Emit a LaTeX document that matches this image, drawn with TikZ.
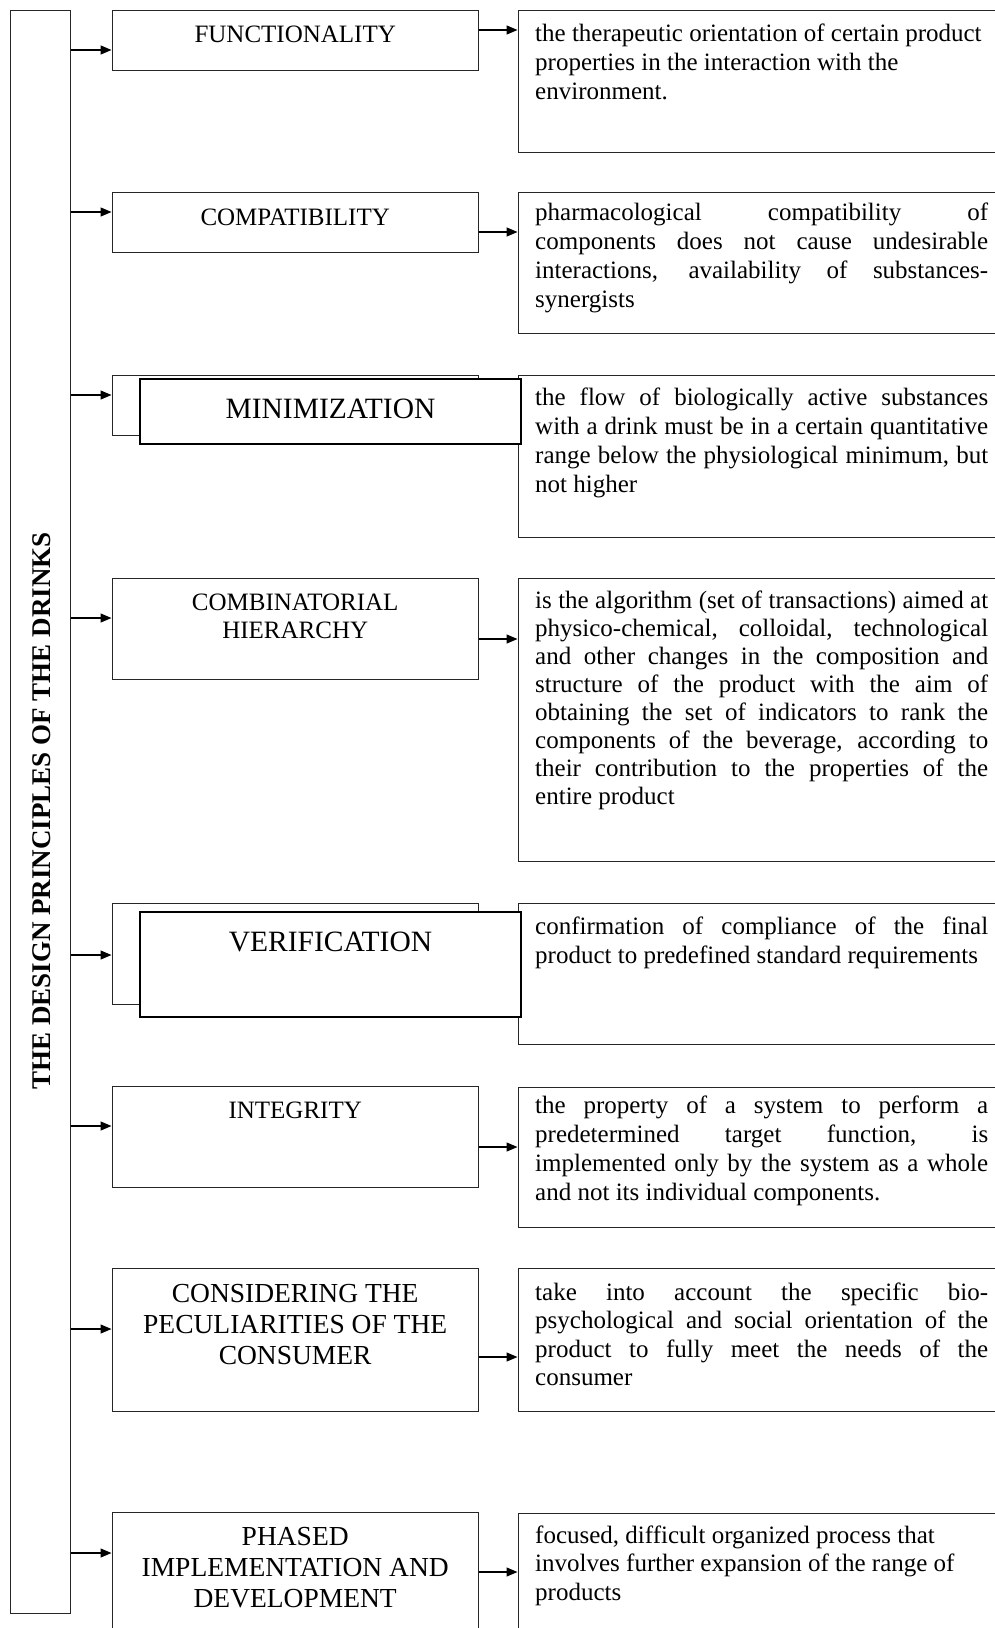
\documentclass[tikz,border=0pt]{standalone}
\usepackage{fontspec}
\setmainfont{Liberation Serif}
\usetikzlibrary{arrows.meta,fit}
\newlength{\rw}\setlength{\rw}{453pt}
\newlength{\lw}\setlength{\lw}{366pt}
\newcommand{\jl}[1]{\hbox to \rw{#1}}
\newcommand{\rl}[1]{\hbox{#1}}
\newcommand{\cl}[1]{\hbox to \lw{\hfil#1\hfil}}
\newcommand{\para}[2]{\vtop{\baselineskip=#1pt\lineskiplimit=-30pt\lineskip=0pt #2}}
\begin{document}
\begin{tikzpicture}[x=1pt,y=-1pt,
  box/.style={draw=black!85, line width=1pt, inner sep=0pt},
  frontbox/.style={draw=black, line width=2pt, fill=white, inner sep=0pt},
  arr/.style={line width=1.3pt, -{Triangle[length=11pt,width=9pt]}},
  txt/.style={anchor=base west, inner sep=0pt, font=\fontsize{25}{29}\selectfont},
  ltxt/.style={anchor=base west, inner sep=0pt, font=\fontsize{25}{31}\selectfont},
  lbig/.style={anchor=base west, inner sep=0pt, font=\fontsize{27.5}{31}\selectfont},
  big/.style={anchor=base, inner sep=0pt, font=\fontsize{29.5}{32}\selectfont}]
\useasboundingbox (0,0) rectangle (995,1628);
\fill[white] (0,0) rectangle (995,1628);
\clip (0,0) rectangle (995,1628);

% title column
\node[box, fit={(10,10) (70,1613)}] (T) {};
\node[rotate=90, inner sep=0pt, font=\bfseries\fontsize{27}{27}\selectfont] (tt) at (42,811) {THE DESIGN PRINCIPLES OF THE DRINKS};

% left boxes
\node[box, fit={(112,10) (478,70)}] (L1) {};
\node[box, fit={(112,192) (478,252)}] (L2) {};
\node[box, fit={(112,375) (478,435)}] (L3) {};
\node[box, fit={(112,578) (478,679)}] (L4) {};
\node[box, fit={(112,903) (478,1004)}] (L5) {};
\node[box, fit={(112,1086) (478,1187)}] (L6) {};
\node[box, fit={(112,1268) (478,1411)}] (L7) {};
\node[box, fit={(112,1512) (478,1660)}] (L8) {};

% right boxes
\node[box, fit={(518,10) (1010,152)}] (R1) {};
\node[box, fit={(518,192) (1010,333)}] (R2) {};
\node[box, fit={(518,375) (1010,537)}] (R3) {};
\node[box, fit={(518,578) (1010,861)}] (R4) {};
\node[box, fit={(518,903) (1010,1044)}] (R5) {};
\node[box, fit={(518,1087) (1010,1227)}] (R6) {};
\node[box, fit={(518,1268) (1010,1411)}] (R7) {};
\node[box, fit={(518,1513) (1010,1660)}] (R8) {};

% arrows from title column
\draw[arr] (T.east |- 0,50) -- (L1.west |- 0,50);
\draw[arr] (T.east |- 0,212) -- (L2.west |- 0,212);
\draw[arr] (T.east |- 0,395) -- (L3.west |- 0,395);
\draw[arr] (T.east |- 0,618) -- (L4.west |- 0,618);
\draw[arr] (T.east |- 0,955) -- (L5.west |- 0,955);
\draw[arr] (T.east |- 0,1126) -- (L6.west |- 0,1126);
\draw[arr] (T.east |- 0,1329) -- (L7.west |- 0,1329);
\draw[arr] (T.east |- 0,1553) -- (L8.west |- 0,1553);

% arrows to description boxes
\draw[arr] (L1.east |- 0,30) -- (R1.west |- 0,30);
\draw[arr] (L2.east |- 0,232) -- (R2.west |- 0,232);
\draw[arr] (L4.east |- 0,639) -- (R4.west |- 0,639);
\draw[arr] (L6.east |- 0,1147) -- (R6.west |- 0,1147);
\draw[arr] (L7.east |- 0,1357) -- (R7.west |- 0,1357);
\draw[arr] (L8.east |- 0,1572) -- (R8.west |- 0,1572);

% front boxes
\node[frontbox, fit={(140,379) (521,444)}] (F3) {};
\node[frontbox, fit={(140,912) (521,1017)}] (F5) {};

% left labels
\node[ltxt] (l1) at (112,42) {\para{31}{\cl{FUNCTIONALITY}}};
\node[ltxt] (l2) at (112,225) {\para{31}{\cl{COMPATIBILITY}}};
\node[big] (l3) at (330.5,418) {MINIMIZATION};
\node[ltxt] (l4) at (112,610) {\para{28}{\cl{COMBINATORIAL}\cl{HIERARCHY}}};
\node[big] (l5) at (330.5,951) {VERIFICATION};
\node[ltxt] (l6) at (112,1118) {\para{31}{\cl{INTEGRITY}}};
\node[lbig] (l7) at (112,1302) {\para{31}{\cl{CONSIDERING THE}\cl{PECULIARITIES OF THE}\cl{CONSUMER}}};
\node[lbig] (l8) at (112,1545) {\para{31}{\cl{PHASED}\cl{IMPLEMENTATION AND}\cl{DEVELOPMENT}}};

% description texts
\node[txt] (r1) at (535,41) {\para{29}{%
\rl{the therapeutic orientation of certain product}
\rl{properties in the interaction with the}
\rl{environment.}}};
\node[txt] (r2) at (535,220) {\para{29}{%
\jl{pharmacological compatibility of}
\jl{components does not cause undesirable}
\jl{interactions, availability of substances-}
\rl{synergists}}};
\node[txt] (r3) at (535,405) {\para{29}{%
\jl{the flow of biologically active substances}
\jl{with a drink must be in a certain quantitative}
\jl{range below the physiological minimum, but}
\rl{not higher}}};
\node[txt] (r4) at (535,608) {\para{28}{%
\jl{is the algorithm (set of transactions) aimed at}
\jl{physico-chemical, colloidal, technological}
\jl{and other changes in the composition and}
\jl{structure of the product with the aim of}
\jl{obtaining the set of indicators to rank the}
\jl{components of the beverage, according to}
\jl{their contribution to the properties of the}
\rl{entire product}}};
\node[txt] (r5) at (535,934) {\para{29}{%
\jl{confirmation of compliance of the final}
\rl{product to predefined standard requirements}}};
\node[txt] (r6) at (535,1113) {\para{29}{%
\jl{the property of a system to perform a}
\jl{predetermined target function, is}
\jl{implemented only by the system as a whole}
\rl{and not its individual components.}}};
\node[txt] (r7) at (535,1300) {\para{28.5}{%
\jl{take into account the specific bio-}
\jl{psychological and social orientation of the}
\jl{product to fully meet the needs of the}
\rl{consumer}}};
\node[txt] (r8) at (535,1543) {\para{28.5}{%
\rl{focused, difficult organized process that}
\rl{involves further expansion of the range of}
\rl{products}}};
\end{tikzpicture}
\end{document}
